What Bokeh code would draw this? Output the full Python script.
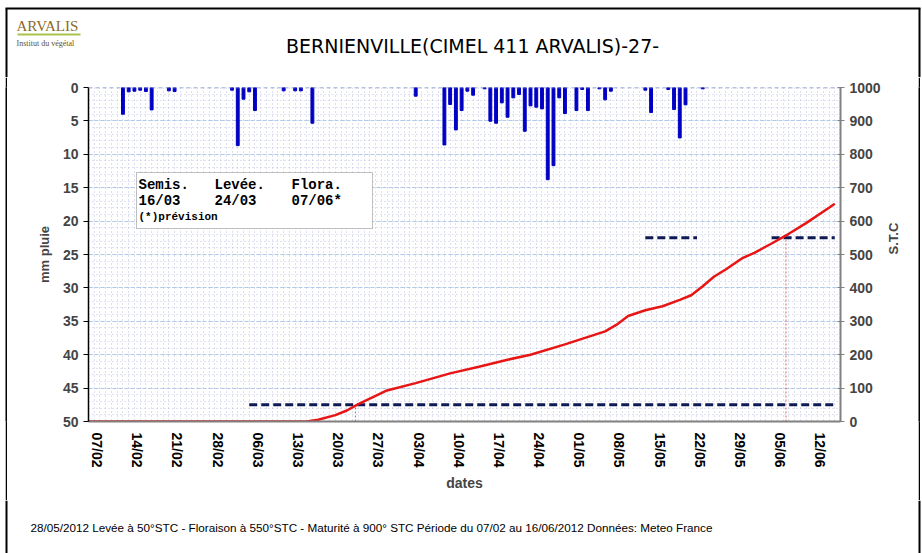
import math
from datetime import date
from bokeh.plotting import figure
from bokeh.layouts import column, row
from bokeh.models import (Range1d, LinearAxis, FixedTicker, Grid, Span, Label,
                          BoxAnnotation, ColumnDataSource)
from bokeh.core.properties import value
from bokeh.embed import file_html
from bokeh.resources import INLINE

# ---------------- data ----------------
YEAR = 2012
PERIOD_START = "07/02"
PERIOD_END = "16/06"

tick_labels = ["07/02", "14/02", "21/02", "28/02", "06/03", "13/03", "20/03",
               "27/03", "03/04", "10/04", "17/04", "24/04", "01/05", "08/05",
               "15/05", "22/05", "29/05", "05/06", "12/06"]

rain_dates = ["13/02", "14/02", "15/02", "16/02", "17/02", "18/02", "21/02", "22/02",
              "03/03", "04/03", "05/03", "06/03", "07/03", "12/03", "14/03", "15/03",
              "17/03", "04/04", "09/04", "10/04", "11/04", "12/04", "13/04", "14/04",
              "16/04", "17/04", "18/04", "19/04", "20/04", "21/04", "22/04", "23/04",
              "24/04", "25/04", "26/04", "27/04", "28/04", "29/04", "30/04", "02/05",
              "03/05", "04/05", "06/05", "07/05", "08/05", "14/05", "15/05", "18/05",
              "19/05", "20/05", "21/05", "24/05"]
rain_mm = [4.0, 0.65, 0.55, 0.4, 0.6, 3.35, 0.5, 0.6,
           0.4, 8.7, 1.75, 0.65, 3.45, 0.5, 0.5, 0.5,
           5.35, 1.3, 8.6, 2.55, 6.35, 3.45, 0.55, 1.15,
           0.2, 5.05, 5.35, 2.3, 4.45, 1.55, 1.05, 6.55,
           2.75, 2.95, 3.2, 13.8, 11.7, 1.55, 3.9, 3.45,
           0.3, 3.45, 0.2, 1.85, 0.55, 0.4, 3.75, 0.3,
           3.3, 7.55, 2.6, 0.2]

stc_dates = ["07/02", "16/03", "18/03", "21/03", "23/03", "25/03", "30/03", "04/04",
             "10/04", "15/04", "20/04", "24/04", "30/04", "07/05", "09/05", "11/05",
             "14/05", "17/05", "20/05", "22/05", "24/05", "26/05", "28/05", "31/05",
             "02/06", "05/06", "08/06", "11/06", "15/06", "16/06"]
stc_values = [0, 0, 5, 19, 33, 52, 93, 115,
              144, 164, 185, 200, 231, 270, 290, 316,
              333, 345, 364, 378, 405, 434, 455, 490,
              505, 533, 562, 594, 640, 652]

threshold_values = [50, 550, 550]
threshold_from = ["06/03", "14/05", "05/06"]
threshold_to = ["16/06", "23/05", "16/06"]

stage_names = ["Semis.", "Levée.", "Flora."]
stage_dates = ["16/03", "24/03", "07/06*"]
stage_note = "(*)prévision"
marker_dates = ["24/03", "07/06"]
marker_values = [50, 550]

title_text = "BERNIENVILLE(CIMEL 411 ARVALIS)-27-"
logo_text = "ARVALIS"
logo_sub = "Institut du végétal"
footer_text = ("28/05/2012 Levée à 50°STC - Floraison à 550°STC - Maturité à 900° STC  "
               "Période du 07/02 au 16/06/2012 Données: Meteo France")


def day(s):
    d, m = map(int, s.strip("*").split("/"))
    return (date(YEAR, m, d) - date(YEAR, 2, 7)).days


# ---------------- style ----------------
LABEL_SHIFT = 1.5     # tick labels sit slightly right of their date in the original
MIDDAY = 0.5
SANS = "Liberation Sans"
MONO = "Liberation Mono"
W, H = 922, 553
HEAD_H, FOOT_H = 77, 53
MAIN_H = H - HEAD_H - FOOT_H
FRAME = "black"


def blank(width, height, xr=None, yr=None, fill="white"):
    f = figure(width=width, height=height, output_backend="svg", toolbar_location=None,
               x_range=xr or Range1d(0, 1), y_range=yr or Range1d(0, 1),
               x_axis_type=None, y_axis_type=None, title=None, min_border=0)
    f.grid.visible = False
    f.outline_line_color = None
    f.background_fill_color = fill
    f.border_fill_color = fill
    return f


# ---------------- header ----------------
head = blank(W, HEAD_H, Range1d(0, W), Range1d(HEAD_H, 0))
head.line([5, W - 2], [8, 8], line_color=FRAME, line_width=2)
head.line([6, 6], [8, HEAD_H], line_color=FRAME, line_width=2)
head.line([W - 3, W - 3], [8, HEAD_H], line_color=FRAME, line_width=2)
head.text(x=[472], y=[45], text=[title_text], text_font=value("DejaVu Sans"),
          text_font_size="19px", text_align="center", text_baseline="middle",
          text_color="black")
head.text(x=[16], y=[25], text=[logo_text], text_font=value("Liberation Serif"),
          text_font_size="15px", text_baseline="middle", text_color="#8a6a2a")
head.line([17, 80], [34, 34], line_color="#a9c24a", line_width=2)
head.text(x=[16], y=[43], text=[logo_sub], text_font=value("Liberation Serif"),
          text_font_size="8px", text_baseline="middle", text_color="#6a5020")

# ---------------- side border strips ----------------
l_gap = blank(5, MAIN_H)
l_bar = blank(2, MAIN_H, fill=FRAME)
l_pad = blank(1, MAIN_H)
r_bar = blank(2, MAIN_H, fill=FRAME)
r_gap = blank(2, MAIN_H)

# ---------------- footer ----------------
foot = blank(W, FOOT_H, Range1d(0, W), Range1d(FOOT_H, 0))
foot.line([6, 6], [0, FOOT_H], line_color=FRAME, line_width=2)
foot.line([W - 3, W - 3], [0, FOOT_H], line_color=FRAME, line_width=2)
foot.text(x=[30], y=[27], text=[footer_text], text_font=value(SANS),
          text_font_size="11.7px", text_baseline="middle", text_color="black")

# ---------------- main chart ----------------
n_days = day(PERIOD_END) + 1

p = figure(width=W - 12, height=MAIN_H, output_backend="svg",
           toolbar_location=None, title=None,
           x_range=Range1d(0, n_days), y_range=Range1d(50, 0),
           min_border_left=80, min_border_right=78, min_border_top=10,
           min_border_bottom=79)
p.outline_line_color = None
p.background_fill_color = "white"
p.border_fill_color = "white"
p.extra_y_ranges = {"stc": Range1d(0, 1000)}

# grids
p.xgrid.ticker = FixedTicker(ticks=list(range(0, n_days + 1)))
p.xgrid.grid_line_color = "#b9c1e2"
p.xgrid.grid_line_dash = "1 3"
p.xgrid.grid_line_width = 1
p.ygrid.ticker = FixedTicker(ticks=list(range(0, 51)))
p.ygrid.grid_line_color = "#bcc4e4"
p.ygrid.grid_line_dash = "1 3"
major_grid = Grid(dimension=1, ticker=FixedTicker(ticks=list(range(5, 51, 5))),
                  grid_line_color="#b0cbe8", grid_line_dash="4 2")
p.add_layout(major_grid)
p.add_layout(Span(location=0, dimension="width", line_color="#7b88bd",
                  line_dash="4 3", line_width=1.5))

# bottom axis
xa = p.xaxis[0]
label_ticks = [day(t) + LABEL_SHIFT for t in tick_labels]
xa.ticker = FixedTicker(ticks=label_ticks)
xa.major_label_overrides = {k: t for k, t in zip(label_ticks, tick_labels)}
xa.major_label_orientation = "vertical"
xa.major_label_text_font = SANS
xa.major_label_text_font_style = "bold"
xa.major_label_text_font_size = "14px"
xa.major_label_text_color = "black"
xa.major_tick_line_color = None
xa.minor_tick_line_color = None
xa.axis_line_color = "#808080"
xa.axis_line_width = 2
xa.axis_label = "dates"
xa.axis_label_text_font = SANS
xa.axis_label_text_font_style = "bold"
xa.axis_label_text_font_size = "14px"
xa.axis_label_standoff = 4

# left axis
ya = p.yaxis[0]
ya.ticker = FixedTicker(ticks=list(range(0, 51, 5)))
ya.major_label_text_font = SANS
ya.major_label_text_font_style = "bold"
ya.major_label_text_font_size = "14px"
ya.major_tick_in = 0
ya.major_tick_out = 5
ya.minor_tick_line_color = None
ya.axis_line_color = "black"
ya.axis_line_width = 1.5
ya.axis_label = "mm pluie"
ya.axis_label_text_font = SANS
ya.axis_label_text_font_style = "bold"
ya.axis_label_text_font_size = "13px"
ya.axis_label_standoff = 8

# right axis
ra = LinearAxis(y_range_name="stc", ticker=FixedTicker(ticks=list(range(0, 1001, 100))),
                axis_label="S.T.C")
ra.major_label_text_font = SANS
ra.major_label_text_font_style = "bold"
ra.major_label_text_font_size = "14px"
ra.major_tick_in = 3
ra.major_tick_out = 4
ra.minor_tick_line_color = None
ra.axis_line_color = "#808080"
ra.axis_line_width = 2
ra.major_tick_line_color = "#808080"
ra.axis_label_text_font = SANS
ra.axis_label_text_font_style = "bold"
ra.axis_label_text_font_size = "13px"
ra.axis_label_standoff = 10
try:
    ra.axis_label_orientation = math.pi / 2
except Exception:
    pass
p.add_layout(ra, "right")

# rain bars
rain = ColumnDataSource(dict(x=[day(d) for d in rain_dates], mm=rain_mm))
p.vbar(x="x", top="mm", bottom=0, width=0.5, source=rain,
       fill_color="#0000c4", line_color="#0000c4")

# thresholds
for v, a, b in zip(threshold_values, threshold_from, threshold_to):
    p.line([day(a), day(b)], [v, v], y_range_name="stc", line_color="#0f1a55",
           line_width=3, line_dash="8 4")

# stage markers
for d, v in zip(marker_dates, marker_values):
    p.line([day(d) + MIDDAY] * 2, [0, v], y_range_name="stc", line_color="#e06060",
           line_width=1, line_dash="2 2")

# STC curve
stc = ColumnDataSource(dict(x=[day(d) for d in stc_dates], y=stc_values))
p.line("x", "y", source=stc, y_range_name="stc", line_color="#e81515", line_width=2.5)

# stage box
p.add_layout(BoxAnnotation(left=48, right=284, top=249, bottom=193,
                           left_units="screen", right_units="screen",
                           top_units="screen", bottom_units="screen",
                           fill_color="white", fill_alpha=1,
                           line_color="#333333", line_width=1))
col_x = [50, 126, 203]
for cx, nm, dt in zip(col_x, stage_names, stage_dates):
    p.add_layout(Label(x=cx, y=237, x_units="screen", y_units="screen", text=nm,
                       text_font=MONO, text_font_style="bold", text_font_size="14px",
                       text_baseline="middle", text_color="black"))
    p.add_layout(Label(x=cx, y=221, x_units="screen", y_units="screen", text=dt,
                       text_font=MONO, text_font_style="bold", text_font_size="14px",
                       text_baseline="middle", text_color="black"))
p.add_layout(Label(x=col_x[0], y=205, x_units="screen", y_units="screen", text=stage_note,
                   text_font=MONO, text_font_style="bold", text_font_size="11px",
                   text_baseline="middle", text_color="black"))

layout = column(head, row(l_gap, l_bar, l_pad, p, r_bar, r_gap), foot)
open("out.html", "w").write(file_html(layout, INLINE))
